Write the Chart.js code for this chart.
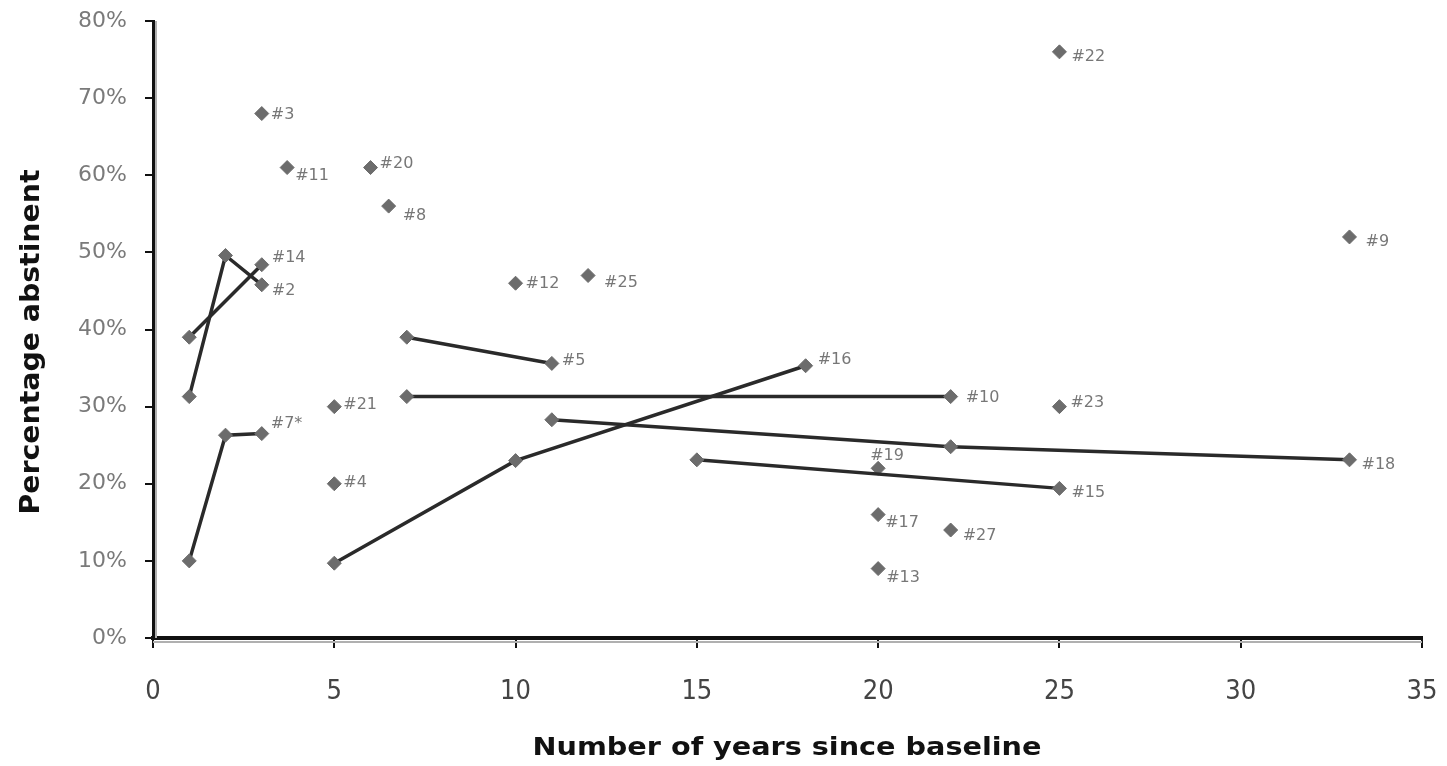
<!DOCTYPE html>
<html>
<head>
<meta charset="utf-8">
<script src="https://cdn.jsdelivr.net/npm/chart.js@4/dist/chart.umd.min.js"></script>
<style>
  body { margin: 0; background: #fff; }
  #wrap { width: 1447px; height: 766px; }
</style>
</head>
<body>
<div id="wrap"><canvas id="chart"></canvas></div>
<script>
// study ids, years since baseline, and percentage abstinent at each follow-up
const studyIds = ['#2', '#14', '#7*', '#16', '#5', '#10', '#18', '#15',
    '#3', '#11', '#20', '#8', '#21', '#4', '#12', '#25', '#23', '#19', '#17', '#27', '#13', '#22', '#9'];
const studyYears = [
    [1, 2, 3], [1, 3], [1, 2, 3], [5, 10, 18], [7, 11], [7, 22], [11, 22, 33], [15, 25],
    [3], [3.7], [6], [6.5], [5], [5], [10], [12], [25], [20], [20], [22], [20], [25], [33]
];
const studyPercents = [
    [31.3, 49.6, 45.8], [39, 48.4], [10, 26.3, 26.5], [9.7, 23, 35.3], [39, 35.6], [31.3, 31.3],
    [28.3, 24.8, 23.1], [23.1, 19.4],
    [68], [61], [61], [56], [30], [20], [46], [47], [30], [22], [16], [14], [9], [76], [52]
];
const xTicks = [0, 5, 10, 15, 20, 25, 30, 35];
const yTicks = [0, 10, 20, 30, 40, 50, 60, 70, 80];

// where each id label sits relative to the study's last point (px)
const labelOffsets = [
    [10, 6], [10, -7], [9, -10], [12, -6], [10, -3], [15, 1], [12, 5], [12, 4],
    [9, 1], [8, 8], [9, -4], [14, 10], [9, -2], [9, -1], [10, 1], [16, 7], [11, -4],
    [-8, -12], [7, 8], [12, 6], [8, 9], [12, 5], [16, 5]
];

const datasets = studyIds.map((id, i) => ({
    label: id,
    data: studyYears[i].map((x, j) => ({x: x, y: studyPercents[i][j]})),
    showLine: studyYears[i].length > 1,
    borderColor: '#2a2a2a',
    borderWidth: 3.5,
    pointStyle: 'rectRot',
    pointRadius: 7,
    pointBackgroundColor: '#6c6c6c',
    pointBorderColor: '#6c6c6c',
    pointBorderWidth: 1
}));

const axisShadow = {
    id: 'axisShadow',
    beforeDatasetsDraw(chart) {
        const a = chart.chartArea;
        const ctx = chart.ctx;
        ctx.save();
        ctx.strokeStyle = '#b0b0b0';
        ctx.lineWidth = 2;
        ctx.beginPath();
        ctx.moveTo(a.left + 3, a.top);
        ctx.lineTo(a.left + 3, a.bottom);
        ctx.moveTo(a.left, a.bottom + 4);
        ctx.lineTo(a.right, a.bottom + 4);
        ctx.stroke();
        ctx.restore();
    }
};

const idLabels = {
    id: 'idLabels',
    afterDatasetsDraw(chart) {
        const ctx = chart.ctx;
        const xs = chart.scales.x, ys = chart.scales.y;
        ctx.save();
        ctx.font = '16px "DejaVu Sans"';
        ctx.fillStyle = '#777';
        ctx.textBaseline = 'middle';
        ctx.textAlign = 'left';
        studyIds.forEach((id, i) => {
            const n = studyYears[i].length - 1;
            const px = xs.getPixelForValue(studyYears[i][n]);
            const py = ys.getPixelForValue(studyPercents[i][n]);
            ctx.fillText(id, px + labelOffsets[i][0], py + labelOffsets[i][1]);
        });
        ctx.restore();
    }
};

// draw a text centred at (x, y), stretched to a given width
function fittedText(ctx, text, x, y, width, angle) {
    ctx.save();
    ctx.translate(x, y);
    ctx.rotate(angle);
    const w = ctx.measureText(text).width;
    ctx.scale(width / w, 1);
    ctx.fillText(text, 0, 0);
    ctx.restore();
}

const axisTitles = {
    id: 'axisTitles',
    afterDraw(chart) {
        const ctx = chart.ctx;
        ctx.save();
        ctx.fillStyle = '#111';
        ctx.textAlign = 'center';
        ctx.textBaseline = 'middle';
        ctx.font = 'bold 27px "DejaVu Sans"';
        fittedText(ctx, 'Percentage abstinent', 32, 342, 345, -Math.PI / 2);
        ctx.font = 'bold 25px "DejaVu Sans Condensed", "DejaVu Sans"';
        fittedText(ctx, 'Number of years since baseline', 787, 748, 509, 0);
        ctx.restore();
    }
};

new Chart(document.getElementById('chart'), {
    type: 'scatter',
    data: {datasets: datasets},
    options: {
        responsive: true,
        maintainAspectRatio: false,
        animation: false,
        layout: {padding: {top: 21, right: 25, bottom: 0, left: 0}},
        plugins: {legend: {display: false}, tooltip: {enabled: false}},
        scales: {
            x: {
                type: 'linear',
                min: 0,
                max: 35,
                afterBuildTicks: scale => { scale.ticks = xTicks.map(v => ({value: v})); },
                afterFit: scale => {
                    scale.height = 128;
                    scale.paddingLeft = 0;
                    scale.paddingRight = 0;
                },
                ticks: {
                    color: '#444',
                    font: {family: '"Liberation Sans Narrow", "DejaVu Sans Condensed", sans-serif', size: 27},
                    padding: 28,
                    maxRotation: 0
                },
                border: {color: '#111', width: 4},
                grid: {drawOnChartArea: false, drawTicks: true, tickLength: 10, color: '#111', lineWidth: 2}
            },
            y: {
                min: 0,
                max: 80,
                afterBuildTicks: scale => { scale.ticks = yTicks.map(v => ({value: v})); },
                afterFit: scale => {
                    scale.width = 153;
                    scale.paddingTop = 0;
                    scale.paddingBottom = 0;
                },
                ticks: {
                    color: '#7a7a7a',
                    font: {family: '"DejaVu Sans"', size: 22},
                    padding: 18,
                    callback: v => v + '%'
                },
                border: {color: '#111', width: 3},
                grid: {drawOnChartArea: false, drawTicks: true, tickLength: 8, color: '#111', lineWidth: 2}
            }
        }
    },
    plugins: [axisShadow, idLabels, axisTitles]
});
</script>
</body>
</html>
